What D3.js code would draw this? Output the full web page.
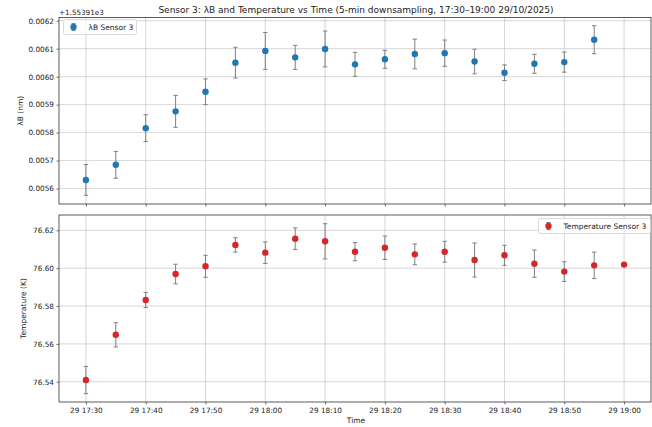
<!DOCTYPE html>
<html>
<head>
<meta charset="utf-8">
<script src="https://cdn.jsdelivr.net/npm/d3@7"></script>
<style>
  body { margin: 0; background: #fff; }
  text { font-family: "DejaVu Sans", sans-serif; fill: #222; }
</style>
</head>
<body>
<div id="chart"></div>
<script>
// 5-min samples, 17:30 -> 19:00 on 29/10/2025
var times = ["17:30","17:35","17:40","17:45","17:50","17:55","18:00","18:05","18:10","18:15",
             "18:20","18:25","18:30","18:35","18:40","18:45","18:50","18:55","19:00"];

// lambda B offset from 1553.91 nm (last sample missing)
var lambdaVals = [0.005631,0.005685,0.005816,0.005876,0.005946,0.006050,0.006092,0.006069,0.006099,0.006044,
                  0.006062,0.006081,0.006084,0.006054,0.006014,0.006046,0.006052,0.006132,null];
var lambdaErr  = [0.000055,0.000048,0.000048,0.000057,0.000046,0.000055,0.000066,0.000043,0.000064,0.000043,
                  0.000032,0.000053,0.000047,0.000044,0.000028,0.000034,0.000036,0.000050,null];

var tempVals = [76.5409,76.5648,76.5832,76.5969,76.6010,76.6123,76.6082,76.6156,76.6142,76.6087,
                76.6108,76.6073,76.6087,76.6043,76.6068,76.6024,76.5982,76.6015,76.6019];
var tempErr  = [0.0072,0.0064,0.0040,0.0052,0.0058,0.0038,0.0057,0.0057,0.0093,0.0048,
                0.0062,0.0055,0.0055,0.0090,0.0053,0.0072,0.0052,0.0070,0];

var lambdaTicks = [0.0056,0.0057,0.0058,0.0059,0.0060,0.0061,0.0062];
var tempTicks = [76.54,76.56,76.58,76.60,76.62];
var xTickTimes = ["17:30","17:40","17:50","18:00","18:10","18:20","18:30","18:40","18:50","19:00"];

var width = 652, height = 427;
var left = 59, right = 651;

function toDate(s) {
    var p = s.split(":");
    return new Date(2025, 9, 29, +p[0], +p[1]);
}

var svg = d3.select("#chart").append("svg")
    .attr("width", width)
    .attr("height", height);

var x = d3.scaleTime()
    .domain([new Date(2025, 9, 29, 17, 25, 30), new Date(2025, 9, 29, 19, 4, 30)])
    .range([left, right]);

var xTicks = xTickTimes.map(toDate);

// title + offset text
svg.append("text")
    .attr("x", 356).attr("y", 13)
    .attr("text-anchor", "middle")
    .style("font-size", "9px")
    .text("Sensor 3: λB and Temperature vs Time (5-min downsampling, 17:30–19:00 29/10/2025)");

svg.append("text")
    .attr("x", left).attr("y", 14.5)
    .style("font-size", "7.2px")
    .text("+1.55391e3");

function panel(cfg) {
    var y = d3.scaleLinear().domain(cfg.domain).range([cfg.bottom, cfg.top]);
    var g = svg.append("g");

    // grid
    g.selectAll(".vg").data(xTicks).enter().append("line")
        .attr("x1", function(d) { return x(d); }).attr("x2", function(d) { return x(d); })
        .attr("y1", cfg.top).attr("y2", cfg.bottom)
        .attr("stroke", "#b0b0b0").attr("stroke-width", 0.7).attr("opacity", 0.7);
    g.selectAll(".hg").data(cfg.ticks).enter().append("line")
        .attr("x1", left).attr("x2", right)
        .attr("y1", function(d) { return y(d); }).attr("y2", function(d) { return y(d); })
        .attr("stroke", "#b0b0b0").attr("stroke-width", 0.7).attr("opacity", 0.7);

    // axes
    var yAxis = d3.axisLeft(y).tickValues(cfg.ticks).tickFormat(cfg.fmt).tickSize(2.5).tickPadding(2.5);
    var ya = g.append("g").attr("transform", "translate(" + left + ",0)").call(yAxis);
    var xAxis = d3.axisBottom(x).tickValues(xTicks).tickSize(2.5).tickPadding(3)
        .tickFormat(cfg.showX ? d3.timeFormat("%d %H:%M") : "");
    var xa = g.append("g").attr("transform", "translate(0," + cfg.bottom + ")").call(xAxis);
    [ya, xa].forEach(function(a) {
        a.select(".domain").remove();
        a.selectAll("line").attr("stroke", "#333").attr("stroke-width", 0.7);
        a.selectAll("text").style("font-size", "7.3px").attr("fill", "#222")
            .style("font-family", "DejaVu Sans, sans-serif");
    });

    g.append("rect")
        .attr("x", left).attr("y", cfg.top)
        .attr("width", right - left).attr("height", cfg.bottom - cfg.top)
        .attr("fill", "none").attr("stroke", "#333").attr("stroke-width", 0.8);

    var pts = times.map(function(t, i) {
        return { t: toDate(t), v: cfg.vals[i], e: cfg.errs[i] };
    }).filter(function(d) { return d.v !== null; });

    // error bars
    var eb = g.selectAll(".eb").data(pts).enter().append("g").attr("stroke", "#808080").attr("stroke-width", 1);
    eb.append("line")
        .attr("x1", function(d) { return x(d.t); }).attr("x2", function(d) { return x(d.t); })
        .attr("y1", function(d) { return y(d.v - d.e); }).attr("y2", function(d) { return y(d.v + d.e); });
    [-1, 1].forEach(function(s) {
        eb.append("line")
            .attr("x1", function(d) { return x(d.t) - 2.2; }).attr("x2", function(d) { return x(d.t) + 2.2; })
            .attr("y1", function(d) { return y(d.v + s * d.e); }).attr("y2", function(d) { return y(d.v + s * d.e); });
    });

    g.selectAll(".pt").data(pts).enter().append("circle")
        .attr("cx", function(d) { return x(d.t); })
        .attr("cy", function(d) { return y(d.v); })
        .attr("r", 3.2)
        .attr("fill", cfg.color);

    // y label
    svg.append("text")
        .attr("transform", "translate(" + cfg.labelX + "," + ((cfg.top + cfg.bottom) / 2) + ") rotate(-90)")
        .attr("text-anchor", "middle")
        .style("font-size", "7.5px")
        .text(cfg.label);

    // legend
    var lg = svg.append("g").attr("transform", "translate(" + cfg.legX + "," + cfg.legY + ")");
    lg.append("rect").attr("width", cfg.legW).attr("height", 15).attr("rx", 2)
        .attr("fill", "#fff").attr("fill-opacity", 0.8).attr("stroke", "#d0d0d0").attr("stroke-width", 0.8);
    lg.append("line").attr("x1", 10).attr("x2", 10).attr("y1", 4).attr("y2", 11)
        .attr("stroke", "#808080").attr("stroke-width", 1);
    lg.append("line").attr("x1", 8).attr("x2", 12).attr("y1", 4).attr("y2", 4).attr("stroke", "#808080");
    lg.append("line").attr("x1", 8).attr("x2", 12).attr("y1", 11).attr("y2", 11).attr("stroke", "#808080");
    lg.append("circle").attr("cx", 10).attr("cy", 7.5).attr("r", 3.2).attr("fill", cfg.color);
    lg.append("text").attr("x", 25).attr("y", 10.3).style("font-size", "7.5px").text(cfg.legText);
}

panel({
    top: 17.5, bottom: 204, domain: [0.005545, 0.0062114],
    ticks: lambdaTicks, fmt: d3.format(".4f"), vals: lambdaVals, errs: lambdaErr,
    color: "#1f77b4", showX: false, label: "λB (nm)", labelX: 23,
    legX: 63.5, legY: 19.5, legW: 73, legText: "λB Sensor 3"
});

panel({
    top: 215, bottom: 402, domain: [76.5293, 76.6281],
    ticks: tempTicks, fmt: d3.format(".2f"), vals: tempVals, errs: tempErr,
    color: "#d62728", showX: true, label: "Temperature (K)", labelX: 26,
    legX: 538.5, legY: 218.5, legW: 112, legText: "Temperature Sensor 3"
});

svg.append("text")
    .attr("x", 356).attr("y", 423)
    .attr("text-anchor", "middle")
    .style("font-size", "7.5px")
    .text("Time");
</script>
</body>
</html>
